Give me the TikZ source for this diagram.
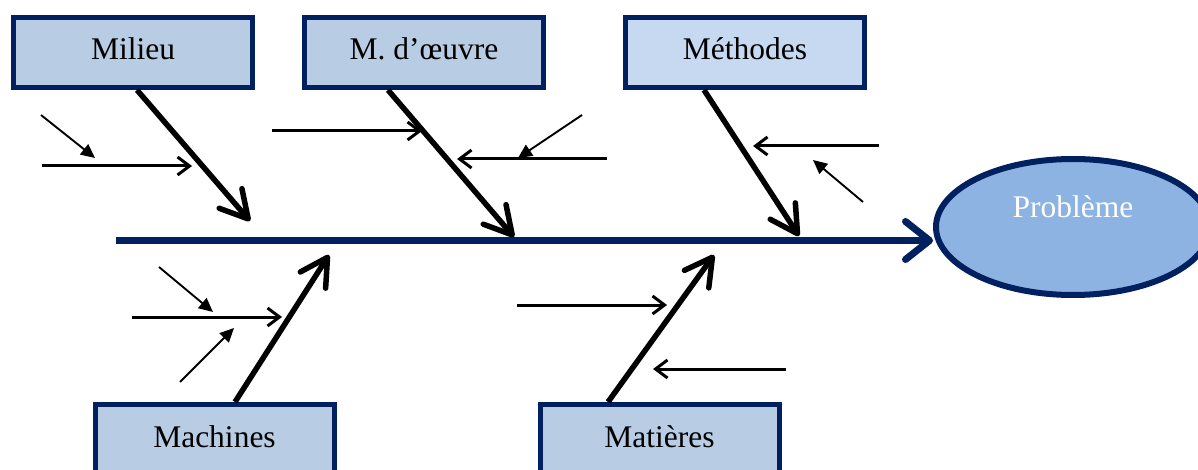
\documentclass[tikz,border=0pt]{standalone}
\usepackage{fontspec}
\setmainfont{Liberation Serif}
\usetikzlibrary{arrows.meta,shapes.geometric,calc}
\definecolor{navy}{HTML}{002060}
\definecolor{boxfill}{HTML}{B8CCE4}
\definecolor{boxfillb}{HTML}{C6D9F1}
\definecolor{probfill}{HTML}{8DB3E2}
\tikzset{
  cat/.style={draw=navy, line width=5pt, fill=boxfill, rectangle, inner sep=0pt,
    minimum width=239pt, minimum height=70pt, text height=22pt, text depth=7pt,
    font=\fontsize{31.5}{36}\selectfont},
  bone/.style={line width=5.5pt, -{Straight Barb[round,length=27pt,width=30pt]}},
  spine/.style={draw=navy, line width=7pt, -{Straight Barb[round,length=24pt,width=38pt]}},
  sub/.style={line width=3pt, -{Straight Barb[length=12pt,width=18pt]}},
  subsub/.style={line width=1.9pt, -{Triangle[length=14pt,width=13pt]}},
}
\begin{document}
\begin{tikzpicture}[x=1pt,y=-1pt]
\useasboundingbox (0,0) rectangle (1198,470);
\clip (0,0) rectangle (1198,470);
% category boxes
\node[cat] (milieu) at (133,52.5) {Milieu};
\node[cat] (mdo) at (424,52.5) {M. d’œuvre};
\node[cat, fill=boxfillb] (meth) at (745,52.5) {Méthodes};
\node[cat] (mach) at (214.5,439.5) {Machines};
\node[cat] (mat) at (659.5,439.5) {Matières};
% problem
\node[ellipse, draw=navy, line width=6pt, fill=probfill, inner sep=0pt,
  minimum width=274pt, minimum height=136pt, text=white,
  text height=12pt, text depth=30pt, font=\fontsize{31.5}{36}\selectfont]
  (prob) at (1073,227) {Problème};
% spine
\coordinate (s0) at (116,240.5);
\draw[spine] (s0) -- (s0 -| prob.west);
% bone tips
\coordinate (tmil) at (250,221);
\coordinate (tmdo) at (514,237);
\coordinate (tmeth) at (799,236);
\coordinate (tmach) at (329,255);
\coordinate (tmat) at (714,255);
\draw[bone] ($(milieu.south)+(4,0)$) -- (tmil);
\draw[bone] ($(mdo.south)+(-36,0)$) -- (tmdo);
\draw[bone] ($(meth.south)+(-41,0)$) -- (tmeth);
\draw[bone] ($(mach.north)+(20.5,0)$) -- (tmach);
\draw[bone] ($(mat.north)+(-51.5,0)$) -- (tmat);
% sub causes
\coordinate (a1) at (42,166);   \coordinate (a2) at (192,166);
\coordinate (b1) at (272,131);  \coordinate (b2) at (422,131);
\coordinate (c1) at (607,159);  \coordinate (c2) at (457,159);
\coordinate (d1) at (879,146);  \coordinate (d2) at (753,146);
\coordinate (e1) at (132,317);  \coordinate (e2) at (282,317);
\coordinate (f1) at (517,305);  \coordinate (f2) at (667,305);
\coordinate (g1) at (786,369);  \coordinate (g2) at (653,369);
\draw[sub] (a1) -- (a2);
\draw[sub] (b1) -- (b2);
\draw[sub] (c1) -- (c2);
\draw[sub] (d1) -- (d2);
\draw[sub] (e1) -- (e2);
\draw[sub] (f1) -- (f2);
\draw[sub] (g1) -- (g2);
% sub-sub causes
\coordinate (h1) at (41,115);   \coordinate (h2) at (95,158);
\coordinate (i1) at (582,115);  \coordinate (i2) at (518,158);
\coordinate (j1) at (863,202);  \coordinate (j2) at (813,160);
\coordinate (k1) at (159,267);  \coordinate (k2) at (213,312);
\coordinate (l1) at (180,382);  \coordinate (l2) at (234,328);
\draw[subsub] (h1) -- (h2);
\draw[subsub] (i1) -- (i2);
\draw[subsub] (j1) -- (j2);
\draw[subsub] (k1) -- (k2);
\draw[subsub] (l1) -- (l2);
\end{tikzpicture}
\end{document}
